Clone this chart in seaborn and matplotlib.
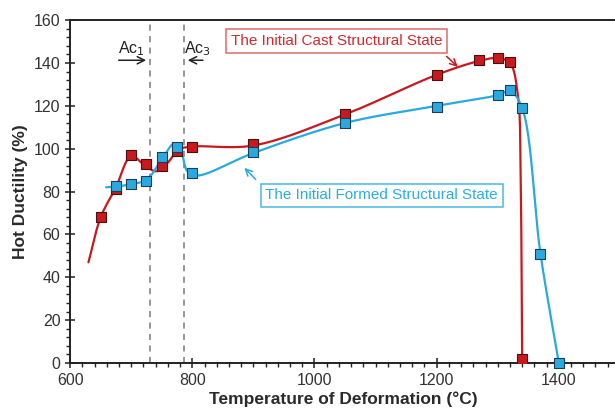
import numpy as np
import matplotlib
matplotlib.use("Agg")
import matplotlib.pyplot as plt
from matplotlib.ticker import MultipleLocator
import seaborn as sns

# ---- data ----
cast_temp = [650, 675, 700, 725, 750, 775, 800, 900, 1050, 1200, 1270, 1300, 1320, 1340]
cast_duct = [68, 81, 97, 93, 92, 99, 101, 102, 116, 134.5, 141.5, 142.5, 140.5, 2]

formed_temp = [675, 700, 725, 750, 775, 800, 900, 1050, 1200, 1300, 1320, 1340, 1370, 1400]
formed_duct = [82.5, 83.5, 85, 96, 101, 88.5, 98.5, 112, 119.5, 125, 127.5, 119, 51, 0]

# smoothed trend curves (knots)
cast_curve_x = [630, 650, 675, 700, 725, 742, 760, 777, 800, 900, 1050, 1200, 1270, 1300, 1320, 1333, 1337.5, 1340]
cast_curve_y = [47, 68, 82, 96.5, 91.5, 89.5, 93.5, 99.5, 101, 101.5, 116, 134.5, 141, 142.3, 140, 125, 85, 2]

formed_curve_x = [659, 675, 700, 725, 750, 770, 779, 792, 808, 900, 1050, 1200, 1300, 1320, 1340, 1370, 1400]
formed_curve_y = [82, 82.3, 83.5, 85.5, 95, 102.5, 101.5, 89.5, 87.5, 98, 112, 120, 125, 127, 119, 51, 0]

ac1, ac3 = 731, 786
cast_label = "The Initial Cast Structural State"
formed_label = "The Initial Formed Structural State"
x_ticks = [600, 800, 1000, 1200, 1400]
y_ticks = [0, 20, 40, 60, 80, 100, 120, 140, 160]

RED = "#C8191F"
BLUE = "#2AA9E0"


def catmull_rom(xs, ys, sx=0.608, sy=2.125, n=40, alpha=0.5):
    P = np.column_stack([np.asarray(xs, float) * sx, np.asarray(ys, float) * sy])
    P = np.vstack([2 * P[0] - P[1], P, 2 * P[-1] - P[-2]])
    out = []
    for i in range(1, len(P) - 2):
        p0, p1, p2, p3 = P[i - 1], P[i], P[i + 1], P[i + 2]
        t0 = 0.0
        t1 = t0 + np.linalg.norm(p1 - p0) ** alpha + 1e-9
        t2 = t1 + np.linalg.norm(p2 - p1) ** alpha + 1e-9
        t3 = t2 + np.linalg.norm(p3 - p2) ** alpha + 1e-9
        t = np.linspace(t1, t2, n)[:, None]
        A1 = (t1 - t) / (t1 - t0) * p0 + (t - t0) / (t1 - t0) * p1
        A2 = (t2 - t) / (t2 - t1) * p1 + (t - t1) / (t2 - t1) * p2
        A3 = (t3 - t) / (t3 - t2) * p2 + (t - t2) / (t3 - t2) * p3
        B1 = (t2 - t) / (t2 - t0) * A1 + (t - t0) / (t2 - t0) * A2
        B2 = (t3 - t) / (t3 - t1) * A2 + (t - t1) / (t3 - t1) * A3
        C = (t2 - t) / (t2 - t1) * B1 + (t - t1) / (t2 - t1) * B2
        out.append(C if i == len(P) - 3 else C[:-1])
    C = np.vstack(out)
    return C[:, 0] / sx, C[:, 1] / sy


sns.set_theme(style="ticks")
plt.rcParams["font.family"] = ["Liberation Sans", "DejaVu Sans"]

fig = plt.figure(figsize=(6.15, 4.12), dpi=100)
ax = fig.add_axes([0.114, 0.119, 0.889, 0.832])

cx, cy = catmull_rom(cast_curve_x, cast_curve_y)
fx, fy = catmull_rom(formed_curve_x, formed_curve_y)

ax.axvline(ac1, color="#7a7a7a", lw=1.1, ls=(0, (4, 3.5)), zorder=1)
ax.axvline(ac3, color="#7a7a7a", lw=1.1, ls=(0, (4, 3.5)), zorder=1)

sns.lineplot(x=cx, y=cy, sort=False, estimator=None, color=RED, lw=1.6, ax=ax, zorder=2)
sns.lineplot(x=fx, y=fy, sort=False, estimator=None, color=BLUE, lw=1.6, ax=ax, zorder=2)

sns.scatterplot(x=cast_temp, y=cast_duct, marker="s", s=62, color=RED,
                edgecolor="#4a1010", linewidth=0.8, ax=ax, zorder=3)
sns.scatterplot(x=formed_temp, y=formed_duct, marker="s", s=62, color=BLUE,
                edgecolor="#1c3d55", linewidth=0.8, ax=ax, zorder=4, clip_on=False)

ax.set_xlim(600, 1495)
ax.set_ylim(0, 160)
ax.set_xticks(x_ticks)
ax.set_yticks(y_ticks)
ax.xaxis.set_minor_locator(MultipleLocator(20))
ax.yaxis.set_minor_locator(MultipleLocator(4))
ax.tick_params(which="major", direction="inout", length=7, width=1.1, labelsize=11.5,
               colors="#222222", labelcolor="#333333")
ax.tick_params(which="minor", direction="out", length=3, width=1.0, colors="#222222")
for sp in ["left", "bottom", "top"]:
    ax.spines[sp].set_color("#222222")
    ax.spines[sp].set_linewidth(1.4)
ax.spines["right"].set_visible(False)

ax.set_xlabel("Temperature of Deformation (°C)", fontsize=12.5, fontweight="bold",
              color="#2a2a2a", labelpad=3)
ax.set_ylabel("Hot Ductility (%)", fontsize=12.5, fontweight="bold", color="#2a2a2a", labelpad=4)

# Ac annotations
ax.text(700, 146.5, r"Ac$_1$", fontsize=11.5, ha="center", va="center", color="#222222")
ax.annotate("", xy=(729, 141.3), xytext=(675, 141.3),
            arrowprops=dict(arrowstyle="->", color="#222222", lw=1.1, mutation_scale=13))
ax.text(808, 146.5, r"Ac$_3$", fontsize=11.5, ha="center", va="center", color="#222222")
ax.annotate("", xy=(788, 141.3), xytext=(822, 141.3),
            arrowprops=dict(arrowstyle="->", color="#222222", lw=1.1, mutation_scale=13))

# labelled boxes
ax.text(1036, 150.3, cast_label, fontsize=11, ha="center", va="center", color="#D22A30",
        bbox=dict(boxstyle="square,pad=0.3", fc="white", ec="#E06A6A", lw=1.1), zorder=5)
ax.annotate("", xy=(1238, 137.3), xytext=(1213, 144),
            arrowprops=dict(arrowstyle="->", color=RED, lw=1.1, mutation_scale=12), zorder=5)
ax.text(1110, 78.2, formed_label, fontsize=11, ha="center", va="center", color="#2AAEE0",
        bbox=dict(boxstyle="square,pad=0.3", fc="white", ec="#4CB8E6", lw=1.1), zorder=5)
ax.annotate("", xy=(882, 92), xytext=(907, 84.8),
            arrowprops=dict(arrowstyle="->", color=BLUE, lw=1.1, mutation_scale=12), zorder=5)

fig.savefig("out.png", dpi=100)
